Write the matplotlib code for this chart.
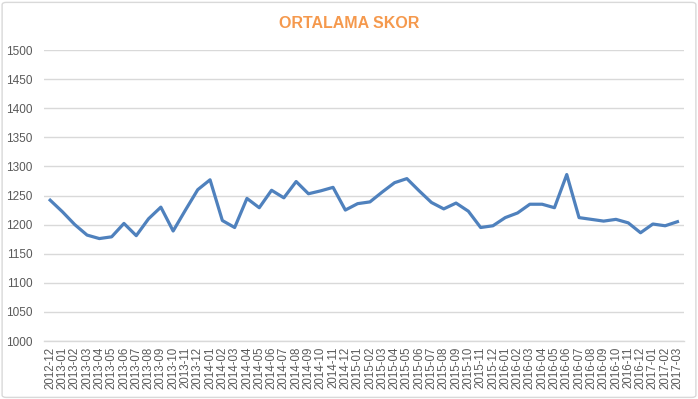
import matplotlib
matplotlib.use("Agg")
import matplotlib.pyplot as plt
from matplotlib.patches import FancyBboxPatch

months = [
    "2012-12", "2013-01", "2013-02", "2013-03", "2013-04", "2013-05", "2013-06", "2013-07",
    "2013-08", "2013-09", "2013-10", "2013-11", "2013-12", "2014-01", "2014-02", "2014-03",
    "2014-04", "2014-05", "2014-06", "2014-07", "2014-08", "2014-09", "2014-10", "2014-11",
    "2014-12", "2015-01", "2015-02", "2015-03", "2015-04", "2015-05", "2015-06", "2015-07",
    "2015-08", "2015-09", "2015-10", "2015-11", "2015-12", "2016-01", "2016-02", "2016-03",
    "2016-04", "2016-05", "2016-06", "2016-07", "2016-08", "2016-09", "2016-10", "2016-11",
    "2016-12", "2017-01", "2017-02", "2017-03",
]
scores = [
    1242, 1222, 1200, 1182, 1176, 1179, 1202, 1181,
    1210, 1230, 1189, 1225, 1260, 1277, 1207, 1195,
    1245, 1229, 1259, 1246, 1274, 1253, 1258, 1264,
    1225, 1236, 1239, 1256, 1272, 1279, 1258, 1238,
    1227, 1237, 1223, 1195, 1198, 1212, 1220, 1235,
    1235, 1229, 1286, 1212, 1209, 1206, 1209, 1203,
    1186, 1201, 1198, 1205,
]
y_ticks = [1000, 1050, 1100, 1150, 1200, 1250, 1300, 1350, 1400, 1450, 1500]
title = "ORTALAMA SKOR"

plt.rcParams['font.family'] = ['Liberation Sans', 'DejaVu Sans']

fig = plt.figure(figsize=(6.98, 3.99), dpi=100)
ax = fig.add_axes([44/698, 1 - 341/399, (683.6 - 44)/698, (341 - 50)/399])

x = list(range(len(months)))
ax.plot(x, scores, color="#4F81BD", linewidth=2.3, solid_joinstyle="round")

ax.set_xlim(-0.5, len(months) - 0.5)
ax.set_ylim(1000, 1500)
ax.set_yticks(y_ticks)
ax.set_yticklabels([str(v) for v in y_ticks], fontsize=8.5, color="#595959")
ax.set_xticks(x)
ax.set_xticklabels(months, rotation=90, fontsize=8.3, color="#595959")
ax.tick_params(axis="both", length=0, pad=4)
ax.tick_params(axis="y", pad=8)
ax.grid(axis="y", color="#D9D9D9", linewidth=1.0)
ax.set_axisbelow(True)
for side in ["left", "right", "top"]:
    ax.spines[side].set_visible(False)
ax.spines["bottom"].set_color("#D9D9D9")
ax.spines["bottom"].set_linewidth(1.0)

fig.text(0.5, 1 - 23/399, title, ha="center", va="center", fontsize=11.5,
         fontweight="bold", color="#F5994D")

border = FancyBboxPatch((0.003, 0.004), 0.994, 0.99, boxstyle="round,pad=0,rounding_size=0.006",
                        transform=fig.transFigure, fill=False, edgecolor="#D9D9D9", linewidth=1.0)
fig.patches.append(border)

fig.savefig("out.png", dpi=100)
